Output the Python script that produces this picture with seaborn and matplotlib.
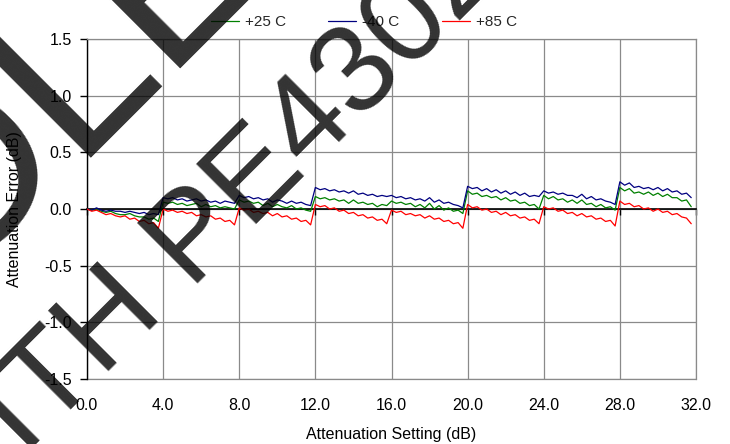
import numpy as np
import pandas as pd
import matplotlib
matplotlib.use("Agg")
import matplotlib.pyplot as plt
import seaborn as sns

# ---------------- data ----------------
atten = np.arange(0, 32, 0.25)  # attenuation setting (dB), 0.25 dB steps

err_25 = [
    0.00, -0.01, 0.00, -0.02, -0.03, -0.02, -0.04, -0.05, -0.05, -0.04, -0.06, -0.07, -0.07, -0.09, -0.08, -0.11,
    0.06, 0.05, 0.06, 0.04, 0.05, 0.03, 0.04, 0.05, 0.02, 0.04, 0.02, 0.03, 0.01, 0.02, 0.01, 0.00,
    0.08, 0.06, 0.07, 0.05, 0.06, 0.03, 0.05, 0.02, 0.04, 0.02, 0.01, 0.03, 0.00, 0.01, -0.01, -0.02,
    0.11, 0.09, 0.10, 0.08, 0.09, 0.07, 0.08, 0.05, 0.08, 0.05, 0.06, 0.04, 0.05, 0.02, 0.04, 0.03,
    0.07, 0.05, 0.06, 0.04, 0.05, 0.02, 0.04, 0.01, 0.05, 0.00, 0.03, -0.01, 0.01, -0.02, -0.01, -0.04,
    0.16, 0.13, 0.14, 0.11, 0.12, 0.10, 0.11, 0.08, 0.10, 0.07, 0.08, 0.05, 0.06, 0.03, 0.04, 0.00,
    0.12, 0.09, 0.11, 0.08, 0.09, 0.06, 0.08, 0.05, 0.08, 0.04, 0.05, 0.02, 0.04, 0.01, 0.02, -0.01,
    0.19, 0.16, 0.18, 0.14, 0.15, 0.13, 0.15, 0.12, 0.14, 0.11, 0.13, 0.10, 0.10, 0.07, 0.08, 0.02,
]
err_m40 = [
    0.00, -0.01, 0.01, -0.01, -0.02, -0.01, -0.02, -0.02, -0.03, -0.02, -0.03, -0.04, -0.03, -0.05, -0.04, -0.05,
    0.10, 0.09, 0.10, 0.08, 0.09, 0.07, 0.08, 0.09, 0.07, 0.08, 0.06, 0.07, 0.05, 0.07, 0.06, 0.05,
    0.12, 0.10, 0.11, 0.09, 0.10, 0.08, 0.09, 0.06, 0.08, 0.07, 0.05, 0.07, 0.05, 0.06, 0.04, 0.03,
    0.19, 0.17, 0.18, 0.16, 0.17, 0.15, 0.16, 0.14, 0.16, 0.13, 0.14, 0.12, 0.13, 0.11, 0.12, 0.11,
    0.12, 0.10, 0.11, 0.09, 0.10, 0.08, 0.09, 0.07, 0.10, 0.06, 0.08, 0.05, 0.06, 0.04, 0.03, 0.01,
    0.20, 0.18, 0.19, 0.16, 0.18, 0.15, 0.17, 0.14, 0.16, 0.13, 0.15, 0.12, 0.14, 0.11, 0.12, 0.11,
    0.16, 0.14, 0.15, 0.13, 0.14, 0.12, 0.12, 0.10, 0.13, 0.09, 0.11, 0.08, 0.09, 0.07, 0.06, 0.04,
    0.24, 0.21, 0.23, 0.19, 0.20, 0.18, 0.19, 0.17, 0.19, 0.16, 0.18, 0.15, 0.16, 0.13, 0.14, 0.10,
]
err_85 = [
    0.00, -0.02, -0.01, -0.03, -0.05, -0.04, -0.06, -0.07, -0.06, -0.09, -0.08, -0.11, -0.10, -0.13, -0.12, -0.17,
    0.00, -0.02, -0.01, -0.03, -0.02, -0.04, -0.03, -0.06, -0.05, -0.07, -0.06, -0.09, -0.08, -0.11, -0.10, -0.14,
    0.01, -0.01, 0.00, -0.03, -0.02, -0.04, -0.03, -0.06, -0.04, -0.07, -0.06, -0.09, -0.08, -0.11, -0.10, -0.14,
    0.04, 0.02, 0.03, 0.00, 0.01, -0.02, -0.01, -0.04, -0.03, -0.06, -0.05, -0.08, -0.07, -0.10, -0.09, -0.13,
    -0.01, -0.03, -0.02, -0.05, -0.04, -0.06, -0.05, -0.08, -0.06, -0.09, -0.08, -0.11, -0.10, -0.13, -0.12, -0.17,
    0.04, 0.01, 0.02, -0.01, 0.00, -0.03, -0.02, -0.05, -0.03, -0.06, -0.05, -0.08, -0.07, -0.10, -0.09, -0.13,
    0.02, 0.00, 0.01, -0.02, -0.01, -0.04, -0.03, -0.06, -0.04, -0.07, -0.06, -0.09, -0.08, -0.11, -0.10, -0.15,
    0.07, 0.04, 0.05, 0.02, 0.03, 0.00, 0.01, -0.02, 0.00, -0.03, -0.02, -0.05, -0.04, -0.07, -0.08, -0.13,
]

series_names = ["+25 C", "-40 C", "+85 C"]
series_colors = ["#008000", "#000080", "#FF0000"]
x_ticks = [0, 4, 8, 12, 16, 20, 24, 28, 32]
y_ticks = [-1.5, -1.0, -0.5, 0.0, 0.5, 1.0, 1.5]
x_label = "Attenuation Setting (dB)"
y_label = "Attenuation Error (dB)"

df = pd.concat([
    pd.DataFrame({"atten": atten, "error": err_25, "series": series_names[0]}),
    pd.DataFrame({"atten": atten, "error": err_m40, "series": series_names[1]}),
    pd.DataFrame({"atten": atten, "error": err_85, "series": series_names[2]}),
], ignore_index=True)

# ---------------- style ----------------
sns.set_theme(style="white")
plt.rcParams["font.family"] = ["Liberation Sans", "DejaVu Sans"]

W, H = 730, 444
fig = plt.figure(figsize=(W / 100, H / 100), dpi=100)
L, R, T, B = 87, 696, 39, 379
ax = fig.add_axes([L / W, 1 - B / H, (R - L) / W, (B - T) / H])

sns.lineplot(data=df, x="atten", y="error", hue="series", hue_order=series_names,
             palette=dict(zip(series_names, series_colors)), linewidth=0.9,
             estimator=None, sort=False, legend=False, ax=ax, zorder=3)

ax.set_xlim(0, 32)
ax.set_ylim(-1.5, 1.5)
ax.set_xticks(x_ticks)
ax.set_yticks(y_ticks)
ax.set_yticklabels([f"{v:.1f}" for v in y_ticks])
grid_c = "#8a8a8a"
ax.grid(True, color=grid_c, linewidth=0.9)
ax.set_axisbelow(True)

for s in ["top", "right"]:
    ax.spines[s].set_color(grid_c)
    ax.spines[s].set_linewidth(0.9)
ax.spines["left"].set_color("black")
ax.spines["left"].set_linewidth(1.0)
ax.spines["bottom"].set_position(("data", 0))
ax.spines["bottom"].set_color("black")
ax.spines["bottom"].set_linewidth(1.2)
ax.axhline(-1.5, color=grid_c, linewidth=0.9, clip_on=False, zorder=1)

ax.tick_params(axis="x", direction="out", length=4, width=1, color="black",
               bottom=True, labelbottom=False)
ax.tick_params(axis="y", direction="out", length=5, width=1, color="black",
               left=True, labelsize=11.5, pad=6, labelcolor="black")

sec = ax.secondary_xaxis(0.0)
sec.set_xticks(x_ticks)
sec.set_xticklabels([f"{v:.1f}" for v in x_ticks])
sec.tick_params(length=0, pad=14, labelsize=11.5, labelcolor="black")
sec.spines["bottom"].set_visible(False)

ax.set_xlabel("")
ax.set_ylabel(y_label, fontsize=11.5, color="black")
ax.yaxis.set_label_coords((22 - L) / (R - L), 0.5)
fig.text((L + R) / 2 / W, 1 - 434 / H, x_label, ha="center", va="center",
         fontsize=11.5, color="black")

handles = ax.get_lines()[:3]
fig.legend(handles, series_names, loc="center", bbox_to_anchor=(364 / W, 1 - 22 / H),
           ncol=3, frameon=False, handlelength=1.83, handletextpad=0.4,
           columnspacing=2.75, fontsize=11, borderpad=0, borderaxespad=0)

# ---------------- watermark ----------------
def wm(text, px, py, size, ha):
    fig.text(px / W, 1 - py / H, text, rotation=45, rotation_mode="anchor",
             ha=ha, va="baseline", fontsize=size, color="black", alpha=0.8,
             zorder=10)

wm("OBSO", 72, 158, 165, "right")
wm("LETE", 72, 158, 165, "left")
wm("REPLACE WIT", 102, 378, 90, "right")
wm("H PE4302", 102, 378, 90, "left")

fig.savefig("out.png", dpi=100)
